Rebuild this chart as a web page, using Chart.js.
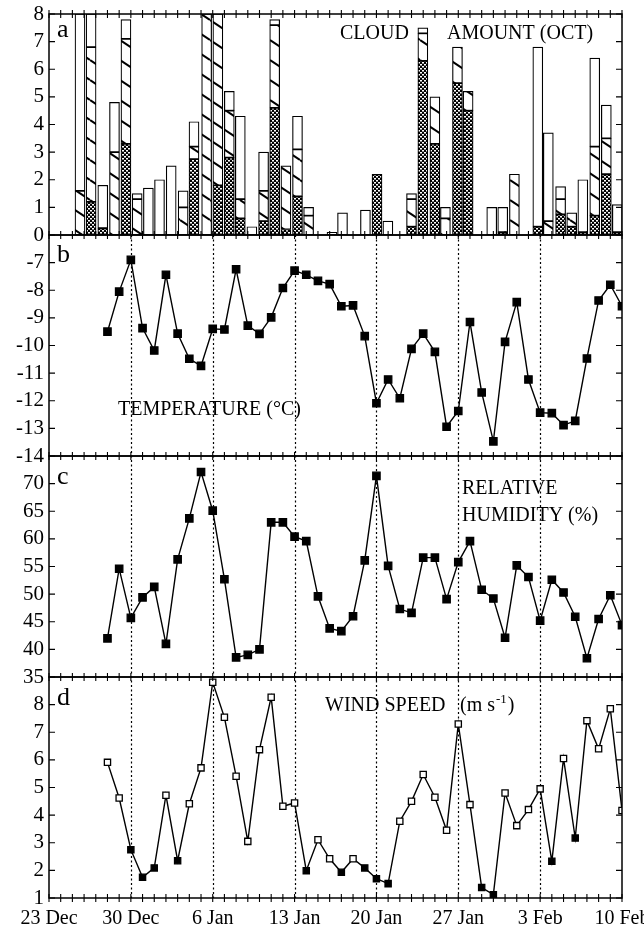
<!DOCTYPE html>
<html>
<head>
<meta charset="utf-8">
<script src="https://cdn.jsdelivr.net/npm/chart.js@4.4.0/dist/chart.umd.min.js"></script>
<style>
  html, body { margin: 0; padding: 0; background: #fff; }
</style>
</head>
<body>
<canvas id="met" width="644" height="938"></canvas>
<script>
// x axis is in days counted from 23 Dec
const dateTicks = [0, 7, 14, 21, 28, 35, 42, 49];
const dateLabels = ['23 Dec', '30 Dec', '6 Jan', '13 Jan', '20 Jan', '27 Jan', '3 Feb', '10 Feb'];

// panel a: daily cloud amount (oktas), split by layer
const cloudDay = [2.65, 3.6, 4.6, 5.6, 6.58, 7.54, 8.5, 9.45, 10.45, 11.47, 12.4, 13.48, 14.44, 15.42,
  16.36, 17.35, 18.35, 19.3, 20.26, 21.25, 22.2, 24.2, 25.1, 27.06, 28.05, 28.98, 31.0, 31.97, 33.0,
  33.9, 34.93, 35.84, 37.86, 38.8, 39.8, 41.8, 42.7, 43.75, 44.7, 45.65, 46.67, 47.66, 48.6];
const lowCloud = [0, 1.2, 0.25, 0, 3.3, 0, 0, 0, 0, 0, 2.75, 0, 1.8, 2.8,
  0.6, 0, 0.5, 4.6, 0.2, 1.4, 0, 0, 0, 0, 2.2, 0, 0.3, 6.3, 3.3,
  0, 5.5, 4.5, 0, 0.1, 0, 0.3, 0, 0.75, 0.3, 0.1, 0.7, 2.2, 0.1];
const midCloud = [1.6, 5.6, 0, 3.0, 3.8, 1.3, 0, 0, 0, 1.0, 0.45, 8, 6.2, 1.7,
  0.7, 0, 1.1, 3.0, 2.3, 1.7, 0.7, 0, 0, 0, 0, 0, 1.0, 1.0, 1.7,
  0.6, 1.3, 0.7, 0, 0, 2.2, 0, 0.5, 0.55, 0.5, 0, 2.5, 1.3, 0];
const highCloud = [6.4, 1.2, 1.55, 1.8, 0.7, 0.2, 1.7, 2.0, 2.5, 0.6, 0.9, 0, 0, 0.7,
  3.0, 0.3, 1.4, 0.2, 0, 1.2, 0.3, 0.1, 0.8, 0.9, 0, 0.5, 0.2, 0.2, 0,
  0.4, 0, 0, 1.0, 0.9, 0, 6.5, 3.2, 0.45, 0, 1.9, 3.2, 1.2, 1.0];

// panels b-d: daily means
const obsDay = [5, 6, 7, 8, 9, 10, 11, 12, 13, 14, 15, 16, 17, 18, 19, 20, 21, 22, 23, 24, 25, 26, 27,
  28, 29, 30, 31, 32, 33, 34, 35, 36, 37, 38, 39, 40, 41, 42, 43, 44, 45, 46, 47, 48, 49];
const temperature = [-9.5, -8.05, -6.9, -9.37, -10.18, -7.44, -9.57, -10.48, -10.74, -9.4, -9.42,
  -7.24, -9.28, -9.58, -8.98, -7.92, -7.29, -7.44, -7.66, -7.78, -8.58, -8.55, -9.66, -12.09,
  -11.23, -11.91, -10.12, -9.57, -10.23, -12.94, -12.37, -9.15, -11.7, -13.47, -9.87, -8.43,
  -11.23, -12.43, -12.45, -12.88, -12.73, -10.47, -8.37, -7.8, -8.58];
const humidity = [42.0, 54.6, 45.7, 49.4, 51.3, 41.0, 56.3, 63.7, 72.1, 65.1, 52.7, 38.55, 39.0,
  40.0, 63.0, 63.0, 60.4, 59.6, 49.6, 43.8, 43.3, 46.0, 56.1, 71.4, 55.1, 47.3, 46.6, 56.6, 56.6,
  49.1, 55.8, 59.6, 50.8, 49.2, 42.1, 55.2, 53.1, 45.2, 52.6, 50.3, 45.9, 38.4, 45.5, 49.8, 44.4];
const windSpeed = [5.91, 4.62, 2.75, 1.75, 2.09, 4.72, 2.35, 4.41, 5.71, 8.81, 7.54, 5.41, 3.05,
  6.37, 8.27, 4.32, 4.44, 1.99, 3.11, 2.42, 1.93, 2.42, 2.09, 1.70, 1.52, 3.78, 4.5, 5.47, 4.65,
  3.45, 7.3, 4.38, 1.38, 1.12, 4.8, 3.62, 4.2, 4.95, 2.33, 6.05, 3.17, 7.42, 6.4, 7.85, 4.17];
// 1 = solid marker, 0 = open marker
const windSolid = [0, 0, 1, 1, 1, 0, 1, 0, 0, 0, 0, 0, 0, 0, 0, 0, 0, 1, 0, 0, 1, 0, 1, 1, 1,
  0, 0, 0, 0, 0, 0, 0, 1, 1, 0, 0, 0, 0, 1, 0, 1, 0, 0, 0, 0];

const cloudTicks = [0, 1, 2, 3, 4, 5, 6, 7, 8];
const tempTicks = [-14, -13, -12, -11, -10, -9, -8, -7];
const rhTicks = [35, 40, 45, 50, 55, 60, 65, 70];
const windTicks = [1, 2, 3, 4, 5, 6, 7, 8];

Chart.defaults.font.family = "'Liberation Serif', 'Times New Roman', serif";
Chart.defaults.color = '#000';

function makeHatch() {
  const c = document.createElement('canvas');
  c.width = 30; c.height = 20;
  const g = c.getContext('2d');
  g.fillStyle = '#fff';
  g.fillRect(0, 0, 30, 20);
  g.strokeStyle = '#000';
  g.lineWidth = 2;
  for (const off of [-20, 0, 20]) {
    g.beginPath();
    g.moveTo(0, off);
    g.lineTo(30, off + 20);
    g.stroke();
  }
  return g.createPattern(c, 'repeat');
}

// dark mesh with staggered white holes
function makeCross() {
  const c = document.createElement('canvas');
  c.width = 4; c.height = 4;
  const g = c.getContext('2d');
  g.fillStyle = '#000';
  g.fillRect(0, 0, 4, 4);
  g.fillStyle = '#fff';
  g.fillRect(0, 0, 2, 1);
  g.fillRect(2, 2, 2, 1);
  g.fillStyle = '#888';
  g.fillRect(0, 1, 2, 1);
  g.fillRect(2, 3, 2, 1);
  return g.createPattern(c, 'repeat');
}

function layer(values, fill) {
  return {
    type: 'bar',
    stack: 'cloud',
    yAxisID: 'ya',
    data: cloudDay.map((d, i) => ({ x: d, y: values[i] })).filter(p => p.y > 0),
    backgroundColor: fill,
    borderColor: '#000',
    borderWidth: 1.2,
    borderSkipped: false,
    barThickness: 10
  };
}

function series(values, axis, pointFill, radius) {
  return {
    type: 'line',
    yAxisID: axis,
    data: obsDay.map((d, i) => ({ x: d, y: values[i] })),
    borderColor: '#000',
    borderWidth: 1.4,
    pointStyle: 'rect',
    pointRadius: radius,
    pointBackgroundColor: pointFill,
    pointBorderColor: '#000',
    pointBorderWidth: 1.3,
    tension: 0
  };
}

function panelAxis(tickValues, min, max, weight) {
  return {
    type: 'linear',
    position: 'left',
    stack: 'panels',
    stackWeight: 1,
    weight: weight,
    min: min,
    max: max,
    stacked: weight === 4,
    afterBuildTicks: s => { s.ticks = tickValues.map(v => ({ value: v })); },
    afterFit: s => { s.width = 49; s.paddingTop = 0; s.paddingBottom = 0; },
    ticks: { font: { size: 21 }, padding: 5, autoSkip: false },
    grid: { display: false, drawTicks: false },
    border: { display: false }
  };
}

const panelFrame = {
  id: 'panelFrame',
  beforeDatasetsDraw(chart) {
    const { ctx, scales } = chart;
    ctx.save();
    ctx.strokeStyle = '#000';
    ctx.lineWidth = 1.2;
    ctx.setLineDash([2, 2.5]);
    dateTicks.slice(1, -1).forEach(d => {
      const px = Math.round(scales.x.getPixelForValue(d)) + 0.5;
      ctx.beginPath();
      ctx.moveTo(px, scales.yb.top);
      ctx.lineTo(px, scales.yd.bottom);
      ctx.stroke();
    });
    ctx.restore();
  },
  afterDatasetsDraw(chart) {
    const { ctx, chartArea: area, scales } = chart;
    const panels = ['ya', 'yb', 'yc', 'yd'].map(id => scales[id]);
    ctx.save();
    ctx.strokeStyle = '#000';
    ctx.lineWidth = 1.5;
    panels.forEach(s => ctx.strokeRect(area.left, s.top, area.right - area.left, s.bottom - s.top));

    // daily ticks across every panel edge
    ctx.lineWidth = 1.1;
    const edges = panels.map(s => s.top).concat([scales.yd.bottom]);
    for (let d = scales.x.min; d <= scales.x.max; d++) {
      const px = scales.x.getPixelForValue(d);
      edges.forEach(y => {
        ctx.beginPath();
        ctx.moveTo(px, y - 4);
        ctx.lineTo(px, y + 4);
        ctx.stroke();
      });
    }
    // value ticks on both sides, pointing in
    panels.forEach(s => {
      s.ticks.forEach(t => {
        const py = s.getPixelForValue(t.value);
        ctx.beginPath();
        ctx.moveTo(area.left, py);
        ctx.lineTo(area.left + 6, py);
        ctx.moveTo(area.right - 6, py);
        ctx.lineTo(area.right, py);
        ctx.stroke();
      });
    });

    ctx.fillStyle = '#000';
    ctx.textBaseline = 'alphabetic';
    ctx.font = "26px 'Liberation Serif', serif";
    ctx.fillText('a', area.left + 8, scales.ya.top + 23);
    ctx.fillText('b', area.left + 8, scales.yb.top + 27);
    ctx.fillText('c', area.left + 8, scales.yc.top + 28);
    ctx.fillText('d', area.left + 8, scales.yd.top + 28);

    ctx.font = "20px 'Liberation Serif', serif";
    ctx.fillText('CLOUD', area.left + 291, scales.ya.top + 25);
    ctx.fillText('AMOUNT (OCT)', area.left + 398, scales.ya.top + 25);
    ctx.fillText('TEMPERATURE (°C)', area.left + 69, scales.yb.top + 180);
    ctx.fillText('RELATIVE', area.left + 413, scales.yc.top + 38);
    ctx.fillText('HUMIDITY (%)', area.left + 413, scales.yc.top + 65);
    ctx.fillText('WIND SPEED', area.left + 276, scales.yd.top + 34);
    const unitX = area.left + 411;
    ctx.fillText('(m s', unitX, scales.yd.top + 34);
    let w = ctx.measureText('(m s').width;
    ctx.font = "13px 'Liberation Serif', serif";
    ctx.fillText('-1', unitX + w + 1, scales.yd.top + 26);
    w += ctx.measureText('-1').width + 2;
    ctx.font = "20px 'Liberation Serif', serif";
    ctx.fillText(')', unitX + w, scales.yd.top + 34);
    ctx.restore();
  }
};

new Chart(document.getElementById('met'), {
  data: {
    datasets: [
      series(temperature, 'yb', '#000', 5.2),
      series(humidity, 'yc', '#000', 5.2),
      series(windSpeed, 'yd', windSolid.map(s => s ? '#000' : '#fff'), 4.4),
      layer(lowCloud, makeCross()),
      layer(midCloud, makeHatch()),
      layer(highCloud, '#fff')
    ]
  },
  options: {
    responsive: false,
    animation: false,
    devicePixelRatio: 1,
    events: [],
    layout: { padding: { top: 14, right: 22, bottom: 0, left: 0 } },
    plugins: { legend: { display: false }, tooltip: { enabled: false } },
    scales: {
      x: {
        type: 'linear',
        offset: false,
        min: 0,
        max: 49,
        afterBuildTicks: s => { s.ticks = dateTicks.map(v => ({ value: v })); },
        afterFit: s => { s.height = 40; s.paddingLeft = 0; s.paddingRight = 0; },
        ticks: {
          callback: v => dateLabels[dateTicks.indexOf(v)],
          font: { size: 20 },
          padding: 9,
          maxRotation: 0,
          autoSkip: false
        },
        grid: { display: false, drawTicks: false, offset: false },
        border: { display: false }
      },
      ya: panelAxis(cloudTicks, 0, 8, 4),
      yb: panelAxis(tempTicks, -14, -6, 3),
      yc: panelAxis(rhTicks, 35, 75, 2),
      yd: panelAxis(windTicks, 1, 9, 1)
    }
  },
  plugins: [panelFrame]
});
</script>
</body>
</html>
